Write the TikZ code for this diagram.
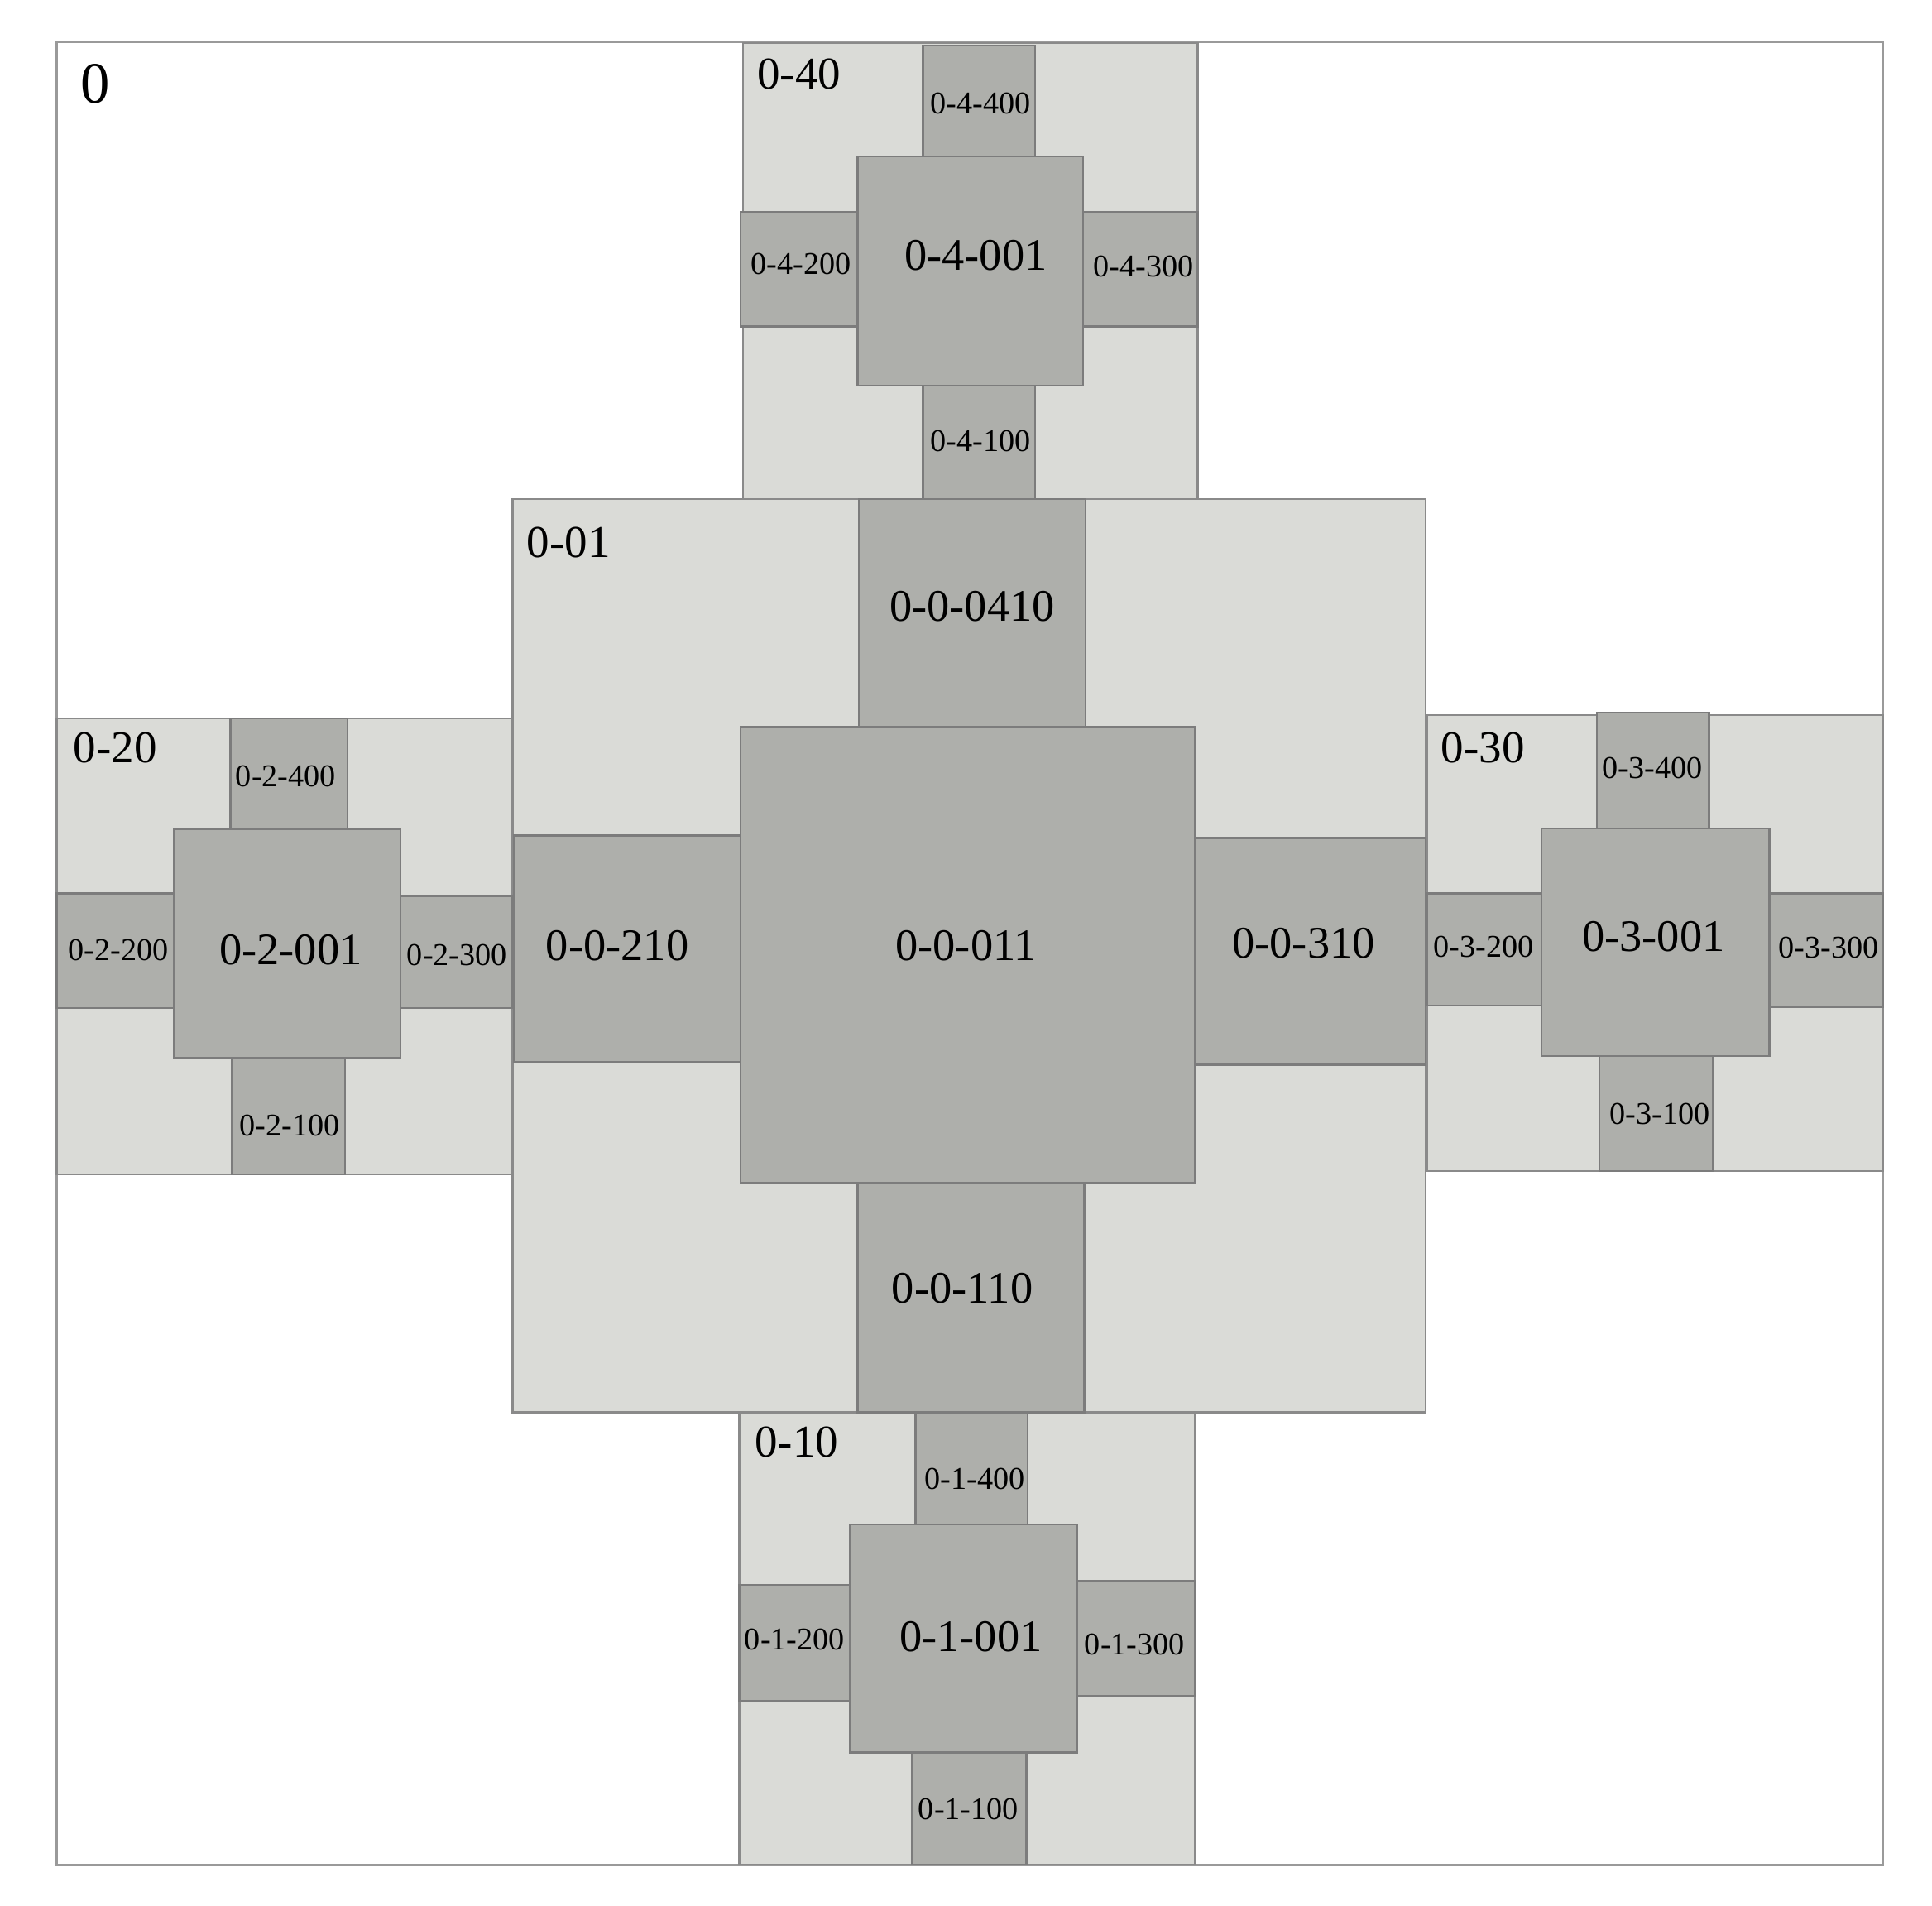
\documentclass[tikz,border=0pt]{standalone}
\usepackage{fontspec}
\setmainfont{Liberation Serif}
\definecolor{lightfill}{HTML}{DADBD7}
\definecolor{darkfill}{HTML}{AEAFAB}
\definecolor{edgegray}{HTML}{8A8A8A}
\definecolor{darkedge}{HTML}{7C7C7C}
\definecolor{frameedge}{HTML}{9A9A9A}
\tikzset{
  lightbox/.style={fill=lightfill, draw=edgegray, line width=0.45pt},
  darkbox/.style={fill=darkfill, draw=darkedge, line width=0.45pt},
  framebox/.style={fill=white, draw=frameedge, line width=0.6pt},
  biglab/.style={font=\fontsize{10.4}{12}\selectfont, inner sep=0pt},
  smalllab/.style={font=\fontsize{7.3}{9}\selectfont, inner sep=0pt},
  blocklab/.style={font=\fontsize{10.5}{12}\selectfont, inner sep=0pt, anchor=west},
  rootlab/.style={font=\fontsize{13.5}{15}\selectfont, inner sep=0pt, anchor=west}
}
\begin{document}
\begin{tikzpicture}[x=0.01cm, y=-0.01cm]
\useasboundingbox[fill=white] (0,0) rectangle (1568,1546);
% outer frame
\draw[framebox] (46,34) rectangle (1528,1513);
\node[rootlab] (l0) at (65,68) {0};

% light blocks
\draw[lightbox] (603,35) rectangle (972,405);
\draw[lightbox] (46,583) rectangle (416,953);
\draw[lightbox] (1158,580) rectangle (1528,950);
\draw[lightbox] (600,1146) rectangle (970,1513);
\draw[lightbox] (416,405) rectangle (1157,1146);

% block 0-40
\draw[darkbox] (749,37) rectangle (840,127);
\draw[darkbox] (601,172) rectangle (696,265);
\draw[darkbox] (879,172) rectangle (972,265);
\draw[darkbox] (749,313) rectangle (840,405);
\draw[darkbox] (696,127) rectangle (879,313);
\node[blocklab] (l40) at (614,60) {0-40};
\node[smalllab] (l4400) at (796,84) {0-4-400};
\node[biglab] (l4001) at (792,207) {0-4-001};
\node[smalllab] (l4200) at (650,214) {0-4-200};
\node[smalllab] (l4300) at (928,216) {0-4-300};
\node[smalllab] (l4100) at (796,358) {0-4-100};

% block 0-01
\draw[darkbox] (697,405) rectangle (881,590);
\draw[darkbox] (417,678) rectangle (601,862);
\draw[darkbox] (970,680) rectangle (1157,864);
\draw[darkbox] (696,960) rectangle (880,1146);
\draw[darkbox] (601,590) rectangle (970,960);
\node[blocklab] (l01) at (427,440) {0-01};
\node[biglab] (l00410) at (789,492) {0-0-0410};
\node[biglab] (l0011) at (784,767) {0-0-011};
\node[biglab] (l0210) at (501,767) {0-0-210};
\node[biglab] (l0310) at (1058,765) {0-0-310};
\node[biglab] (l0110) at (781,1045) {0-0-110};

% block 0-20
\draw[darkbox] (187,583) rectangle (282,675);
\draw[darkbox] (46,725) rectangle (141,818);
\draw[darkbox] (325,727) rectangle (416,818);
\draw[darkbox] (188,858) rectangle (280,953);
\draw[darkbox] (141,673) rectangle (325,858);
\node[blocklab] (l20) at (59,607) {0-20};
\node[smalllab] (l2400) at (232,630) {0-2-400};
\node[biglab] (l2001) at (236,771) {0-2-001};
\node[smalllab] (l2200) at (96,771) {0-2-200};
\node[smalllab] (l2300) at (371,775) {0-2-300};
\node[smalllab] (l2100) at (235,913) {0-2-100};

% block 0-30
\draw[darkbox] (1296,578) rectangle (1387,672);
\draw[darkbox] (1158,725) rectangle (1251,816);
\draw[darkbox] (1436,725) rectangle (1528,817);
\draw[darkbox] (1298,857) rectangle (1390,950);
\draw[darkbox] (1251,672) rectangle (1436,857);
\node[blocklab] (l30) at (1169,607) {0-30};
\node[smalllab] (l3400) at (1341,623) {0-3-400};
\node[biglab] (l3001) at (1342,760) {0-3-001};
\node[smalllab] (l3200) at (1204,768) {0-3-200};
\node[smalllab] (l3300) at (1484,769) {0-3-300};
\node[smalllab] (l3100) at (1347,904) {0-3-100};

% block 0-10
\draw[darkbox] (743,1146) rectangle (834,1238);
\draw[darkbox] (600,1286) rectangle (690,1380);
\draw[darkbox] (874,1283) rectangle (970,1376);
\draw[darkbox] (740,1422) rectangle (833,1513);
\draw[darkbox] (690,1237) rectangle (874,1422);
\node[blocklab] (l10) at (612,1170) {0-10};
\node[smalllab] (l1400) at (791,1200) {0-1-400};
\node[biglab] (l1001) at (788,1328) {0-1-001};
\node[smalllab] (l1200) at (645,1330) {0-1-200};
\node[smalllab] (l1300) at (921,1334) {0-1-300};
\node[smalllab] (l1100) at (786,1468) {0-1-100};
\end{tikzpicture}
\end{document}
